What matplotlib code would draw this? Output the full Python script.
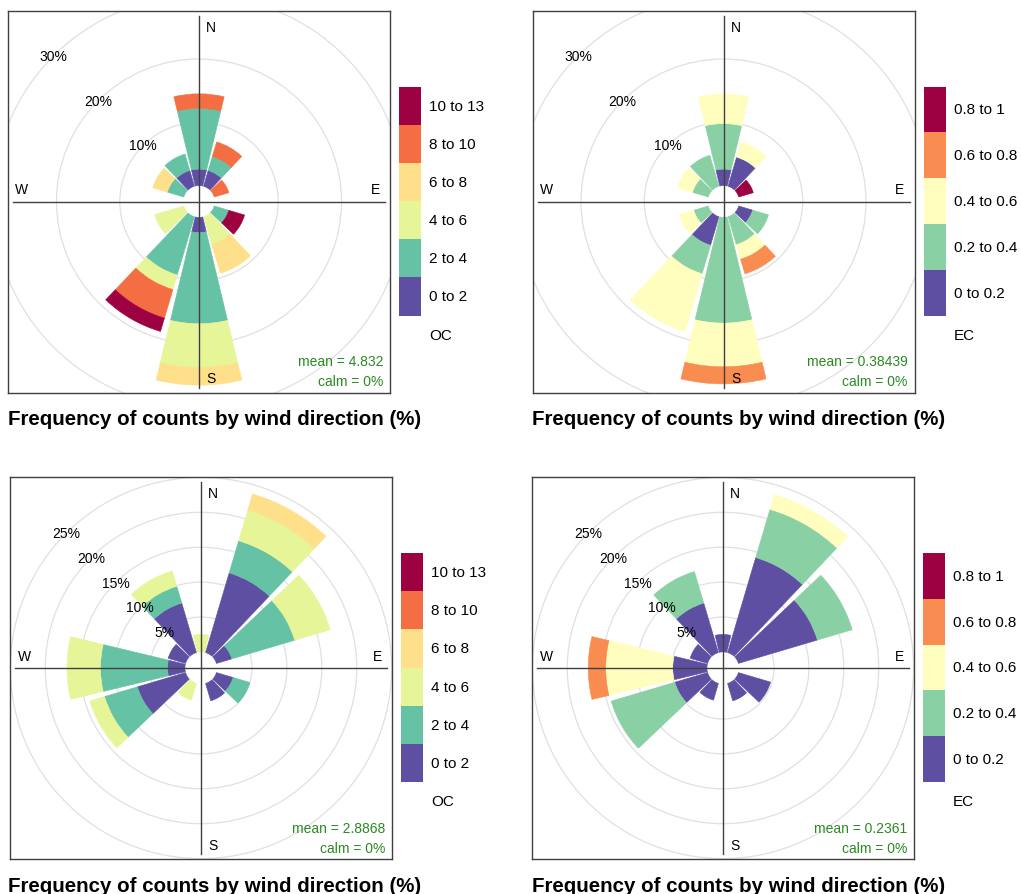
import matplotlib.pyplot as plt
import numpy as np
from matplotlib.patches import Wedge, Circle

plt.rcParams['font.family'] = ['Liberation Sans', 'DejaVu Sans']

W, H = 1021, 895

# wind direction bins (degrees from north, clockwise)
directions = [0, 30, 60, 90, 120, 150, 180, 210, 240, 270, 300, 330]

oc_labels = ["0 to 2", "2 to 4", "4 to 6", "6 to 8", "8 to 10", "10 to 13"]
ec_labels = ["0 to 0.2", "0.2 to 0.4", "0.4 to 0.6", "0.6 to 0.8", "0.8 to 1"]

# frequency (%) per direction, one column per concentration interval
oc_site_a = [
    [2.6, 9.6, 0, 0, 2.3, 0],
    [2.6, 2.3, 0, 0, 2.4, 0],
    [0, 0, 0, 0, 2.4, 0],
    [0, 0, 0, 0, 0, 0],
    [0, 2.4, 0, 0, 0, 2.6],
    [0, 0, 4.6, 4.7, 0, 0],
    [2.4, 14.4, 6.9, 2.8, 0, 0],
    [0, 9.6, 2.4, 0, 4.7, 2.2],
    [0, 0, 4.8, 0, 0, 0],
    [0, 0, 0, 0, 0, 0],
    [0, 2.7, 0, 2.4, 0, 0],
    [2.6, 2.7, 0, 0, 0, 0],
]
ec_site_a = [
    [2.6, 7.2, 4.7, 0, 0],
    [4.8, 0, 2.5, 0, 0],
    [0, 0, 0, 0, 2.4],
    [0, 0, 0, 0, 0],
    [2.3, 2.6, 0, 0, 0],
    [0, 4.6, 2.4, 2.4, 0],
    [0, 16.7, 6.9, 2.7, 0],
    [4.7, 4.7, 9.5, 0, 0],
    [0, 2.4, 2.4, 0, 0],
    [0, 0, 0, 0, 0],
    [0, 2.6, 2.5, 0, 0],
    [0, 5.1, 0, 0, 0],
]
oc_site_b = [
    [0, 0, 2.5, 0, 0, 0],
    [11.9, 4.8, 4.6, 2.4, 0, 0],
    [2.3, 9.4, 5.3, 0, 0, 0],
    [0, 0, 0, 0, 0, 0],
    [2.5, 2.5, 0, 0, 0, 0],
    [2.6, 0, 0, 0, 0, 0],
    [0, 0, 0, 0, 0, 0],
    [0, 0, 2.5, 0, 0, 0],
    [7.2, 4.9, 2.2, 0, 0, 0],
    [2.5, 9.6, 4.8, 0, 0, 0],
    [2.6, 0, 0, 0, 0, 0],
    [7.4, 2.5, 2.3, 0, 0, 0],
]
ec_site_b = [
    [2.5, 0, 0, 0, 0],
    [14.2, 7.2, 2.2, 0, 0],
    [11.8, 5.2, 0, 0, 0],
    [0, 0, 0, 0, 0],
    [4.8, 0, 0, 0, 0],
    [2.6, 0, 0, 0, 0],
    [0, 0, 0, 0, 0],
    [2.5, 0, 0, 0, 0],
    [4.9, 9.5, 0, 0, 0],
    [4.9, 0, 9.6, 2.5, 0],
    [2.6, 0, 0, 0, 0],
    [7.4, 4.7, 0, 0, 0],
]

rings_a = [10, 20, 30]
rings_b = [5, 10, 15, 20, 25]

TITLE = "Frequency of counts by wind direction (%)"
GREEN = "#2a8a22"
LINE = "#404040"


def px_rect(x0, y0, w, h):
    return [x0 / W, 1 - (y0 + h) / H, w / W, h / H]


def draw_rose(fig, cx, cy, px_per_pct, hole_px, rings, freq, labels, name, mean_txt):
    s = px_per_pct
    off = hole_px / s
    half = 191 / s
    ax = fig.add_axes(px_rect(cx - 191, cy - 191, 382, 382))
    ax.set_xlim(-half, half)
    ax.set_ylim(-half, half)
    ax.set_xticks([])
    ax.set_yticks([])
    for sp in ax.spines.values():
        sp.set_color(LINE)
        sp.set_linewidth(1.0)

    for r in rings:
        ax.add_patch(Circle((0, 0), off + r, fill=False, ec="#e0e0e0", lw=0.9, zorder=1))
        c = (off + r) * np.cos(np.pi / 4)
        ax.text(-c, c, f"{r}%", ha="center", va="center", fontsize=10, zorder=4)

    colors = plt.get_cmap("Spectral_r")(np.linspace(0, 1, len(labels)))
    for d, row in zip(directions, freq):
        base = off
        a = 90 - d
        for k, v in enumerate(row):
            if v <= 0:
                continue
            ax.add_patch(Wedge((0, 0), base + v, a - 13.5, a + 13.5, width=v,
                               fc=colors[k], ec=colors[k], lw=0.4, zorder=2))
            base += v

    ax.plot([0, 0], [-186 / s, 186 / s], color=LINE, lw=1, zorder=3)
    ax.plot([-186 / s, 186 / s], [0, 0], color=LINE, lw=1, zorder=3)

    for txt, (dx, dy) in {"N": (12, 175), "S": (12, -177), "E": (176, 12), "W": (-177, 12)}.items():
        ax.text(dx / s, dy / s, txt, ha="center", va="center", fontsize=10, zorder=4)

    ax.text(184 / s, -160 / s, mean_txt, ha="right", va="center", fontsize=10, color=GREEN, zorder=4)
    ax.text(184 / s, -180 / s, "calm = 0%", ha="right", va="center", fontsize=10, color=GREEN, zorder=4)

    # discrete colour key to the right of the rose
    n = len(labels)
    lax = fig.add_axes(px_rect(cx + 200, cy - 115, 22, 229))
    lax.bar([0.5] * n, [1] * n, bottom=np.arange(n), width=1, color=colors)
    lax.set_xlim(0, 1)
    lax.set_ylim(0, n)
    lax.axis("off")
    unit = 229 / n
    for k, lab in enumerate(labels):
        lax.text(1 + 8 / 22, k + 0.5, lab, ha="left", va="center", fontsize=11, clip_on=False)
    lax.text(1 + 8 / 22, -19 / unit, name, ha="left", va="center", fontsize=11, clip_on=False)


fig = plt.figure(figsize=(W / 100, H / 100), dpi=100)

draw_rose(fig, 199, 202.5, 6.33, 15.9, rings_a, oc_site_a, oc_labels, "OC", "mean = 4.832")
draw_rose(fig, 723.5, 202.5, 6.33, 15.9, rings_a, ec_site_a, ec_labels, "EC", "mean = 0.38439")
draw_rose(fig, 201, 669, 6.98, 16.1, rings_b, oc_site_b, oc_labels, "OC", "mean = 2.8868")
draw_rose(fig, 723, 669, 6.98, 16.1, rings_b, ec_site_b, ec_labels, "EC", "mean = 0.2361")

for tx, ty in [(8, 420), (532, 420), (8, 887), (532, 887)]:
    fig.text(tx / W, 1 - ty / H, TITLE, ha="left", va="center", fontsize=14.8, fontweight="bold")

fig.savefig("out.png", dpi=100)
